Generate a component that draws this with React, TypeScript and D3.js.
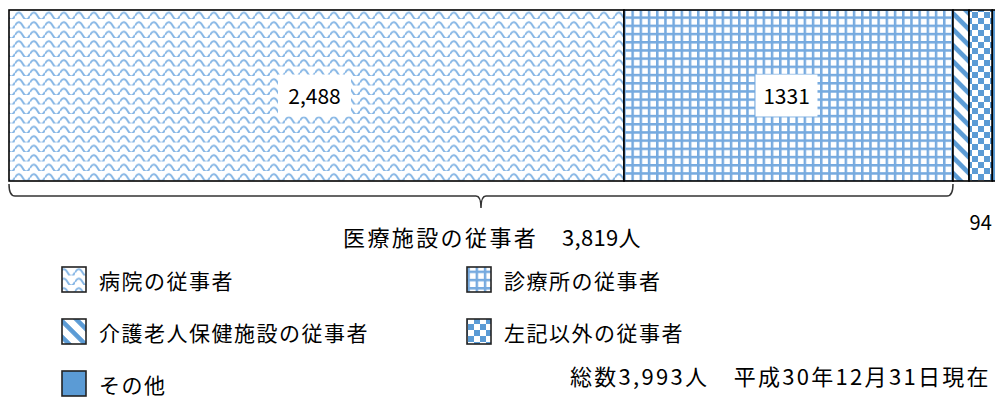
import React from "react";
import * as d3 from "d3";

const categories = ["病院の従事者", "診療所の従事者", "介護老人保健施設の従事者", "左記以外の従事者", "その他"];
const values = [2488, 1331, 65, 94, 15];
const barLabels = ["2,488", "1331", "", "94", ""];
const groupName = "医療施設の従事者";
const groupValue = "3,819人";
const groupCount = 2; // first two categories form 医療施設
const footnote = "総数3,993人\u3000平成30年12月31日現在";
const patternIds = ["pWave", "pGrid", "pDiag", "pCheck", "pSolid"];

const W = 995;
const H = 398;
const FONT = "'Noto Sans CJK JP', 'Noto Sans', sans-serif";
const BLUE = "#5B9BD5";

export default function App() {
  const total = d3.sum(values);
  const x = d3.scaleLinear().domain([0, total]).range([9, 996]);
  const cum = d3.cumsum(values);
  const starts = values.map((v, i) => (i === 0 ? 0 : cum[i - 1]));
  const barTop = 10;
  const barBot = 181;
  const barMid = (barTop + barBot) / 2;

  const groupEnd = cum[groupCount - 1];
  const bx0 = x(0);
  const bx1 = x(groupEnd);
  const bm = (bx0 + bx1) / 2;
  const by = 196;
  const bracket = `M${bx0},184 Q${bx0},${by} ${bx0 + 6},${by} L${bm - 5},${by} Q${bm},${by} ${bm},${by + 12} Q${bm},${by} ${bm + 5},${by} L${bx1 - 6},${by} Q${bx1},${by} ${bx1},184`;

  const legendPos = [
    [62, 267],
    [467, 267],
    [62, 319],
    [467, 319],
    [62, 371],
  ];

  return (
    <svg width={W} height={H} style={{ position: "absolute", left: 0, top: 0, background: "#fff" }} fontFamily={FONT}>
      <defs>
        <pattern id="pWave" patternUnits="userSpaceOnUse" width={15} height={9.5}>
          <rect width={15} height={9.5} fill="#fff" />
          <path d="M0 6.5 Q3.75 -0.5 7.5 6.5 T15 6.5" fill="none" stroke="#86B6E5" strokeWidth={1.9} />
        </pattern>
        <pattern id="pGrid" patternUnits="userSpaceOnUse" width={8.2} height={8.2}>
          <rect width={8.2} height={8.2} fill="#fff" />
          <path d="M1.2 0 V8.2 M0 1.2 H8.2" stroke="#76AADF" strokeWidth={2.6} />
        </pattern>
        <pattern id="pDiag" patternUnits="userSpaceOnUse" width={11.3} height={11.3} patternTransform="rotate(45)">
          <rect width={11.3} height={11.3} fill="#fff" />
          <rect y={0} width={11.3} height={4.6} fill={BLUE} />
        </pattern>
        <pattern id="pCheck" patternUnits="userSpaceOnUse" width={12} height={12}>
          <rect width={12} height={12} fill="#fff" />
          <rect x={0} y={0} width={6} height={6} fill={BLUE} />
          <rect x={6} y={6} width={6} height={6} fill={BLUE} />
        </pattern>
        <pattern id="pSolid" patternUnits="userSpaceOnUse" width={4} height={4}>
          <rect width={4} height={4} fill={BLUE} />
        </pattern>
      </defs>

      {values.map((v, i) => (
        <rect
          key={categories[i]}
          x={x(starts[i])}
          y={barTop}
          width={x(cum[i]) - x(starts[i])}
          height={barBot - barTop}
          fill={`url(#${patternIds[i]})`}
          stroke="#000"
          strokeWidth={1.6}
        />
      ))}

      {values.map((v, i) => {
        const lab = barLabels[i];
        if (!lab) return null;
        const cx = (x(starts[i]) + x(cum[i])) / 2;
        if (i < groupCount) {
          const bw = lab.length * 11 + 18;
          return (
            <g key={"l" + i}>
              <rect x={cx - bw / 2 - 2} y={barMid - 21} width={bw} height={42} fill="#fff" />
              <text x={cx - 2} y={barMid + 8} textAnchor="middle" fontSize={21} fill="#000">
                {lab}
              </text>
            </g>
          );
        }
        return (
          <text key={"l" + i} x={cx} y={230} textAnchor="middle" fontSize={20} fill="#000">
            {lab}
          </text>
        );
      })}

      <path d={bracket} fill="none" stroke="#333" strokeWidth={1.5} />
      <text x={343} y={246} fontSize={22} fill="#000" letterSpacing={2.4}>
        {groupName}
      </text>
      <text x={562} y={246} fontSize={22} fill="#000" letterSpacing={0.3}>
        {groupValue}
      </text>

      {categories.map((c, i) => {
        const [lx, ly] = legendPos[i];
        return (
          <g key={"lg" + i}>
            <rect x={lx} y={ly} width={24} height={25} fill={`url(#${patternIds[i]})`} stroke="#222" strokeWidth={1.6} />
            <text x={lx + 37} y={ly + 22} fontSize={21} fill="#000" letterSpacing={1.5}>
              {c}
            </text>
          </g>
        );
      })}

      <text x={570} y={385} fontSize={22} fill="#000" letterSpacing={2.3} style={{ whiteSpace: "pre" }}>
        {footnote}
      </text>
    </svg>
  );
}
